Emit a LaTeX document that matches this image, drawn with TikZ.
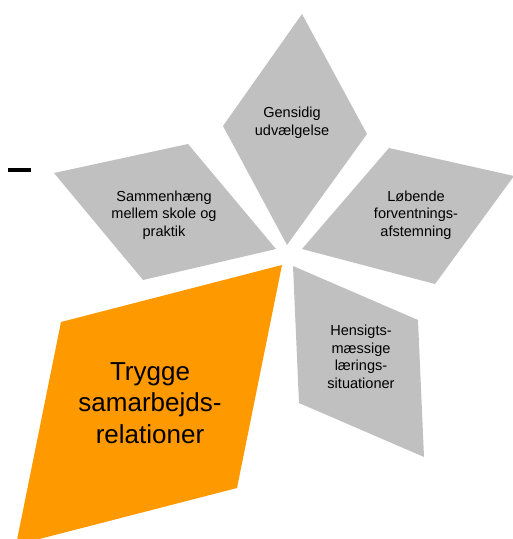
\documentclass[tikz,border=0pt]{standalone}
\usepackage{fontspec}
\setmainfont{Liberation Sans}
\usepackage{tikz}
\usetikzlibrary{positioning}
\usepackage{xcolor}
\definecolor{petalgrey}{RGB}{192,192,192}
\definecolor{petalorange}{RGB}{255,153,0}

\tikzset{
  petal/.style={fill=petalgrey},
  mainpetal/.style={fill=petalorange},
  petaltext/.style={align=center, font=\fontsize{10.9}{13.2}\selectfont, inner sep=0pt},
  maintext/.style={align=center, font=\fontsize{19.5}{23.6}\selectfont, inner sep=0pt}
}

\begin{document}
\begin{tikzpicture}[x=0.75pt,y=-0.75pt]
\clip (0,0) rectangle (513,539);
% petals
\fill[petal] (302,14) -- (367,134) -- (287,245) -- (223,126) -- cycle;
\fill[petal] (54,173) -- (188,144) -- (276,249) -- (143,280) -- cycle;
\fill[petal] (389,148) -- (514,176) -- (435,284) -- (302,249) -- cycle;
\fill[petal] (293,266) -- (418,320) -- (424,457) -- (299,403) -- cycle;
\fill[mainpetal] (61,322) -- (282,265) -- (237,488) -- (16,545) -- cycle;
% texts
\node[petaltext] (gensidig) at (292,123) {Gensidig\\udvælgelse};
\node[petaltext] (sammenhaeng) at (164,215) {Sammenhæng\\mellem skole og\\praktik};
\node[petaltext] (loebende) at (416,215) {Løbende\\forventnings-\\afstemning};
\node[petaltext] (hensigt) at (361,357) {Hensigts-\\mæssige\\lærings-\\situationer};
\node[maintext] (trygge) at (150,403) {Trygge\\samarbejds-\\relationer};
% dash
\draw[line width=3pt] (8,170) -- (31,170);
\end{tikzpicture}
\end{document}
